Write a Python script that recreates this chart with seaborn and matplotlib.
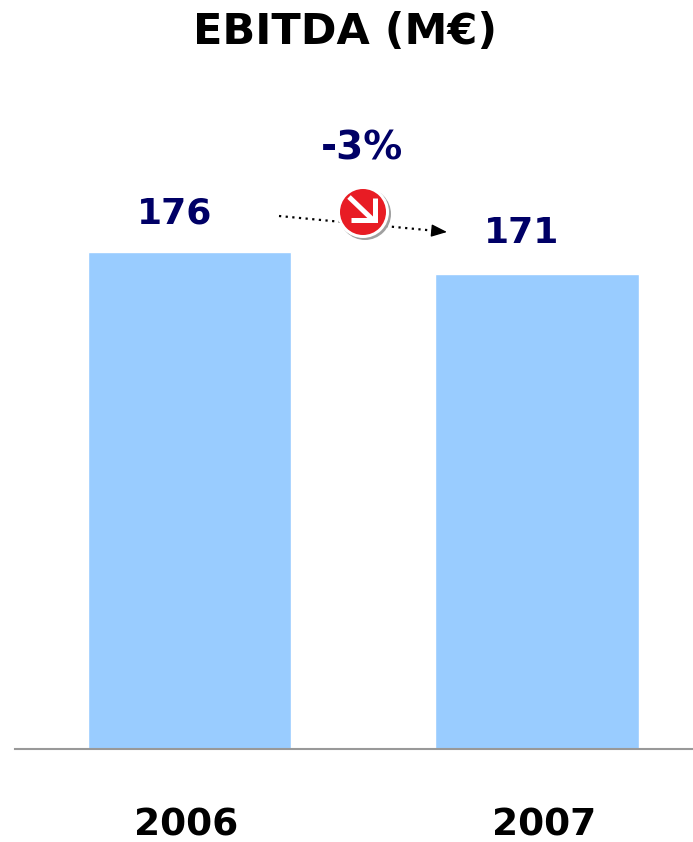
import matplotlib
matplotlib.use("Agg")
import matplotlib.pyplot as plt
import seaborn as sns
from matplotlib.patches import Circle
from matplotlib.transforms import Affine2D

categories = ["2006", "2007"]
values = [176, 171]
title = "EBITDA (M€)"
change = "-3%"

W, H = 693, 842
sns.set_theme(style="white")
plt.rcParams['font.family'] = ['DejaVu Sans']
fig = plt.figure(figsize=(W / 100, H / 100), dpi=100, facecolor="white")
ax = fig.add_axes([15 / W, 1 - 749 / H, (W - 15) / W, 749 / H])
px = Affine2D().scale(1, -1).translate(0, H)  # reference pixel coordinates

sns.barplot(x=categories, y=values, color="#99CCFF", saturation=1, width=0.585, ax=ax)

px_per_unit = 4.4
ax.set_xlim(-0.502, 1.449)
ax.set_ylim(176 - (749 - 251.5) / px_per_unit, 176 + 251.5 / px_per_unit)
sns.despine(ax=ax, left=True, top=True, right=True)
ax.spines["bottom"].set_color("#999999")
ax.spines["bottom"].set_linewidth(1.5)
ax.set_yticks([])
ax.set_ylabel("")
ax.set_xticks([-0.01, 1.02], categories)
ax.tick_params(axis="x", length=0, pad=42)
for t in ax.get_xticklabels():
    t.set_fontsize(27)
    t.set_fontweight("bold")
    t.set_color("black")

navy = "#000066"
tkw = dict(transform=px, ha="center", va="center", fontweight="bold", clip_on=False)
fig.text(345, 32, title, fontsize=31, color="black", **tkw)
fig.text(175, 213, str(values[0]), fontsize=26, color=navy, **tkw)
fig.text(522, 233, str(values[1]), fontsize=26, color=navy, **tkw)
fig.text(362, 149, change, fontsize=28, color=navy, **tkw)

# dotted trend line with a solid arrow head
ax.plot([279, 437], [216, 231], transform=px, color="black", lw=1.6,
        linestyle=(0, (1, 2)), zorder=5, clip_on=False)
ax.annotate("", xy=(447, 232), xytext=(435, 230.9), xycoords=px, textcoords=px,
            arrowprops=dict(arrowstyle="-|>,head_length=0.8,head_width=0.32", color="black",
                            linewidth=1, shrinkA=0, shrinkB=0),
            zorder=5, annotation_clip=False)

# red badge
ax.add_patch(Circle((365, 214), 26, transform=px, fc="#A0A0A0", ec="none", zorder=6, clip_on=False))
ax.add_patch(Circle((363, 212), 26, transform=px, fc="white", ec="none", zorder=7, clip_on=False))
ax.add_patch(Circle((363, 212), 23, transform=px, fc="#E81C24", ec="none", zorder=8, clip_on=False))
ax.plot([349, 372], [197, 219], transform=px, color="white", lw=3.6, zorder=9,
        solid_capstyle="butt", clip_on=False)
ax.plot([375, 375, 351], [198, 220, 220], transform=px, color="white", lw=3.6, zorder=9,
        solid_joinstyle="miter", solid_capstyle="butt", clip_on=False)

fig.savefig("out.png", dpi=100, facecolor="white")
